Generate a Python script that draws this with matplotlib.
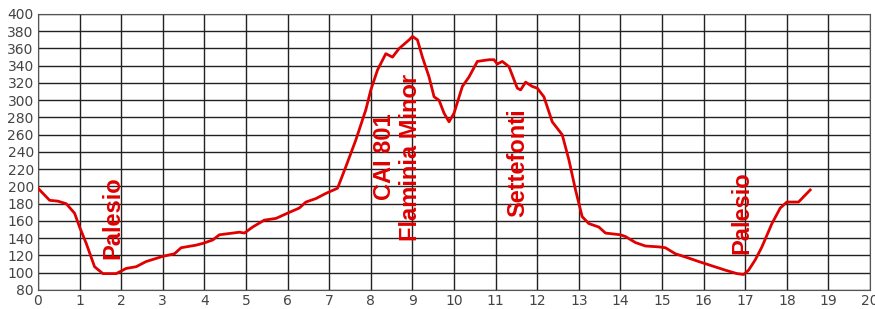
import numpy as np
import matplotlib.pyplot as plt

# PROFILO ALTIMETRICO (km, m s.l.m.)
dist = [0.0, 0.28, 0.48, 0.68, 0.88, 1.0, 1.16, 1.36, 1.56, 1.88, 2.12, 2.36, 2.6, 3.0,
        3.28, 3.44, 3.8, 3.96, 4.2, 4.36, 4.84, 4.96, 5.16, 5.44, 5.72, 6.04, 6.28,
        6.44, 6.68, 6.92, 7.2, 7.4, 7.64, 7.88, 8.0, 8.16, 8.36, 8.52, 8.68, 8.92,
        9.0, 9.12, 9.24, 9.4, 9.52, 9.64, 9.76, 9.88, 10.0, 10.2, 10.36, 10.56,
        10.84, 10.96, 11.04, 11.16, 11.32, 11.52, 11.6, 11.72, 11.88, 12.0, 12.16,
        12.36, 12.6, 12.76, 12.92, 13.08, 13.24, 13.48, 13.64, 14.0, 14.12, 14.36,
        14.6, 14.92, 15.08, 15.32, 15.64, 15.88, 16.2, 16.52, 16.8, 16.96, 17.08,
        17.24, 17.4, 17.64, 17.84, 18.0, 18.28, 18.4, 18.56]
quota = [198, 184, 183, 180, 169, 153, 134, 107, 99, 99, 105, 107, 113, 119,
         122, 129, 132, 134, 138, 144, 147, 146, 153, 161, 163, 170, 175,
         182, 186, 192, 198, 223, 254, 289, 312, 335, 354, 350, 360, 370,
         374, 370, 350, 327, 304, 300, 285, 275, 285, 316, 327, 345,
         347, 347, 342, 345, 339, 314, 312, 321, 316, 314, 304,
         275, 260, 231, 196, 165, 157, 153, 146, 144, 142, 135,
         131, 130, 129, 122, 117, 113, 108, 103, 99, 98, 103,
         115, 130, 157, 175, 182, 182, 188, 196]

# LOCALITÀ
nomi = ['Palesio', 'CAI 801\nFlaminia Minor', 'Settefonti', 'Palesio']
nomi_x = [1.8, 8.64, 11.52, 16.92]
nomi_y = [164, 234, 228, 170]

fig = plt.figure(figsize=(8.75, 3.09), dpi=100)
ax = fig.add_axes([0.0434, 0.0615, 0.951, 0.8932])

ax.plot(dist, quota, color='#e00000', linewidth=2.0, zorder=3)

for nome, x, y in zip(nomi, nomi_x, nomi_y):
    ax.text(x, y, nome, rotation=90, ha='center', va='center', color='#e00000',
            fontsize=17, fontweight='bold', family='Liberation Sans',
            linespacing=1.2, zorder=4)

ax.set_xlim(0, 20)
ax.set_ylim(80, 400)
ax.set_xticks(np.arange(0, 21, 1))
ax.set_yticks(np.arange(80, 401, 20))
ax.grid(True, color='#222222', linewidth=1.0)
ax.tick_params(length=0, labelsize=10, colors='#444444', pad=3)
for s in ax.spines.values():
    s.set_color('#555555')

fig.savefig('out.png', dpi=100)
